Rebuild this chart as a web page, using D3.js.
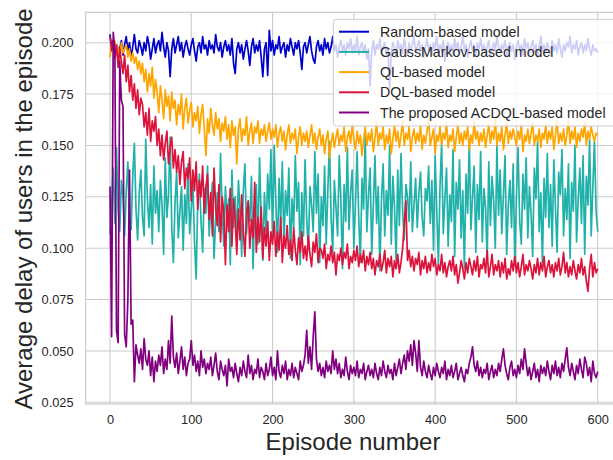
<!DOCTYPE html>
<html><head><meta charset="utf-8">
<script src="https://cdn.jsdelivr.net/npm/d3@7"></script>
<style>html,body{margin:0;padding:0;background:#fff;}svg{display:block;}</style>
</head><body>
<svg id="chart" width="613" height="460"></svg>
<script>
const episodes = d3.range(0, 601, 2);
const xTicks = [0, 100, 200, 300, 400, 500, 600];
const yTicks = [0.025, 0.050, 0.075, 0.100, 0.125, 0.150, 0.175, 0.200];
const seriesNames = ["Random-based model", "GaussMarkov-based model", "QL-based model", "DQL-based model", "The proposed ACDQL-based model"];
const seriesColors = ["#0000CD", "#20B2AA", "#FFA500", "#DC143C", "#800080"];

const randomVals = [
0.204,0.198,0.201,0.195,0.199,0.193,0.197,0.201,0.194,0.199,
0.203,0.196,0.200,0.193,0.198,0.204,0.197,0.195,0.201,0.198,
0.194,0.200,0.196,0.203,0.199,0.192,0.197,0.202,0.195,0.199,
0.201,0.196,0.205,0.198,0.193,0.200,0.196,0.1835,0.197,0.202,
0.195,0.199,0.203,0.196,0.200,0.193,0.198,0.201,0.197,0.194,
0.199,0.202,0.196,0.191,0.198,0.200,0.195,0.203,0.197,0.199,
0.194,0.201,0.197,0.199,0.195,0.204,0.198,0.196,0.200,0.193,
0.198,0.201,0.196,0.199,0.194,0.202,0.190,0.185,0.197,0.200,
0.195,0.199,0.192,0.197,0.201,0.196,0.189,0.198,0.202,0.195,
0.199,0.196,0.201,0.193,0.1835,0.197,0.200,0.184,0.206,0.196,
0.201,0.194,0.199,0.197,0.203,0.195,0.198,0.200,0.193,0.199,
0.196,0.202,0.198,0.194,0.200,0.197,0.201,0.195,0.187,0.198,
0.200,0.195,0.199,0.203,0.196,0.192,0.190,0.198,0.201,0.196,
0.199,0.194,0.202,0.197,0.200,0.195,0.198,0.203,0.196,0.199,
0.193,0.198,0.201,0.196,0.199,0.194,0.200,0.197,0.202,0.195,
0.199,0.196,0.203,0.194,0.198,0.200,0.195,0.199,0.192,0.197,
0.179,0.196,0.201,0.194,0.199,0.197,0.202,0.195,0.198,0.200,
0.194,0.197,0.178,0.195,0.200,0.198,0.193,0.201,0.197,0.199,
0.195,0.202,0.197,0.194,0.200,0.196,0.199,0.203,0.195,0.198,
0.201,0.196,0.199,0.193,0.198,0.202,0.196,0.199,0.194,0.200,
0.197,0.203,0.195,0.199,0.196,0.201,0.191,0.198,0.200,0.195,
0.199,0.194,0.202,0.197,0.200,0.195,0.198,0.204,0.196,0.199,
0.193,0.198,0.201,0.196,0.199,0.194,0.200,0.197,0.202,0.196,
0.199,0.195,0.198,0.201,0.193,0.197,0.200,0.196,0.203,0.198,
0.195,0.199,0.197,0.201,0.194,0.198,0.200,0.196,0.199,0.192,
0.198,0.201,0.196,0.199,0.194,0.202,0.197,0.200,0.195,0.198,
0.201,0.196,0.199,0.193,0.198,0.203,0.196,0.199,0.195,0.200,
0.197,0.194,0.201,0.196,0.199,0.195,0.202,0.197,0.193,0.199,
0.196,0.200,0.198,0.203,0.195,0.199,0.197,0.201,0.194,0.198,
0.200,0.195,0.199,0.196,0.202,0.197,0.194,0.199,0.196,0.197,
0.195];

const gaussVals = [
0.107,0.121,0.139,0.112,0.149,0.118,0.108,0.133,0.125,0.106,
0.128,0.142,0.113,0.109,0.135,0.151,0.119,0.104,0.127,0.138,
0.115,0.106,0.153,0.124,0.110,0.131,0.102,0.140,0.117,0.128,
0.108,0.133,0.121,0.097,0.144,0.115,0.126,0.154,0.110,0.093,
0.122,0.137,0.105,0.118,0.130,0.099,0.126,0.112,0.141,0.107,
0.119,0.131,0.103,0.085,0.124,0.136,0.113,0.098,0.129,0.117,
0.140,0.106,0.121,0.132,0.095,0.114,0.127,0.108,0.146,0.119,
0.101,0.130,0.115,0.124,0.092,0.138,0.110,0.125,0.104,0.133,
0.118,0.096,0.128,0.141,0.107,0.122,0.113,0.135,0.090,0.120,
0.131,0.102,0.144,0.115,0.094,0.127,0.108,0.136,0.119,0.148,
0.105,0.150,0.123,0.098,0.134,0.112,0.142,0.101,0.128,0.116,
0.139,0.095,0.124,0.110,0.145,0.118,0.132,0.092,0.127,0.106,
0.143,0.114,0.099,0.130,0.121,0.108,0.147,0.117,0.136,0.093,
0.125,0.111,0.140,0.102,0.128,0.152,0.115,0.098,0.133,0.120,
0.106,0.145,0.124,0.090,0.131,0.113,0.149,0.109,0.127,0.138,
0.100,0.122,0.147,0.115,0.093,0.134,0.119,0.155,0.108,0.126,
0.139,0.097,0.121,0.145,0.112,0.130,0.089,0.124,0.141,0.106,
0.128,0.116,0.150,0.102,0.135,0.120,0.094,0.138,0.111,0.146,
0.118,0.104,0.131,0.125,0.113,0.142,0.108,0.121,0.134,0.110,
0.127,0.137,0.115,0.106,0.129,0.123,0.140,0.112,0.133,0.099,
0.145,0.118,0.092,0.130,0.151,0.107,0.124,0.139,0.101,0.126,
0.113,0.148,0.096,0.132,0.119,0.143,0.105,0.128,0.090,0.136,
0.117,0.153,0.109,0.125,0.140,0.098,0.131,0.114,0.147,0.103,
0.129,0.120,0.094,0.142,0.111,0.135,0.123,0.100,0.150,0.116,
0.138,0.107,0.126,0.145,0.097,0.121,0.133,0.110,0.141,0.092,
0.125,0.149,0.113,0.102,0.136,0.119,0.144,0.105,0.130,0.117,
0.096,0.139,0.124,0.152,0.108,0.127,0.093,0.134,0.115,0.146,
0.110,0.131,0.101,0.143,0.120,0.098,0.137,0.126,0.148,0.106,
0.129,0.114,0.141,0.095,0.132,0.118,0.150,0.103,0.124,0.139,
0.112,0.145,0.097,0.135,0.121,0.153,0.106,0.130,0.152,0.118,
0.108];

const qlVals = [
0.193,0.199,0.196,0.201,0.194,0.198,0.192,0.200,0.195,0.197,
0.199,0.193,0.197,0.191,0.195,0.190,0.193,0.187,0.191,0.185,
0.190,0.181,0.187,0.176,0.185,0.179,0.188,0.173,0.182,0.176,
0.166,0.179,0.172,0.163,0.177,0.169,0.174,0.162,0.176,0.168,
0.172,0.160,0.170,0.165,0.175,0.158,0.168,0.173,0.161,0.167,
0.171,0.159,0.166,0.162,0.169,0.156,0.165,0.170,0.158,0.145,
0.163,0.156,0.168,0.160,0.155,0.166,0.158,0.163,0.152,0.161,
0.157,0.164,0.153,0.160,0.149,0.162,0.155,0.159,0.141,0.158,
0.163,0.152,0.158,0.155,0.164,0.150,0.157,0.161,0.151,0.159,
0.156,0.162,0.151,0.158,0.155,0.160,0.152,0.157,0.161,0.153,
0.158,0.154,0.160,0.149,0.156,0.159,0.152,0.157,0.148,0.155,
0.160,0.151,0.156,0.153,0.158,0.146,0.154,0.159,0.150,0.156,
0.152,0.157,0.149,0.155,0.160,0.151,0.156,0.148,0.154,0.158,
0.150,0.155,0.146,0.153,0.157,0.144,0.151,0.156,0.149,0.154,
0.158,0.150,0.155,0.152,0.159,0.147,0.154,0.157,0.151,0.160,
0.153,0.148,0.157,0.151,0.155,0.145,0.153,0.159,0.150,0.156,
0.152,0.158,0.147,0.154,0.161,0.150,0.156,0.153,0.159,0.148,
0.155,0.151,0.158,0.146,0.153,0.160,0.152,0.157,0.149,0.155,
0.162,0.150,0.156,0.153,0.159,0.147,0.154,0.158,0.151,0.156,
0.152,0.160,0.148,0.155,0.151,0.157,0.163,0.150,0.154,0.158,
0.146,0.155,0.152,0.159,0.150,0.156,0.153,0.161,0.149,0.155,
0.152,0.158,0.147,0.154,0.160,0.151,0.156,0.150,0.157,0.153,
0.159,0.148,0.155,0.151,0.162,0.153,0.157,0.150,0.156,0.152,
0.158,0.149,0.155,0.160,0.151,0.157,0.153,0.163,0.150,0.156,
0.152,0.159,0.148,0.155,0.161,0.151,0.157,0.153,0.158,0.154,
0.150,0.157,0.153,0.160,0.147,0.155,0.152,0.158,0.151,0.156,
0.161,0.150,0.155,0.152,0.158,0.149,0.156,0.153,0.160,0.151,
0.157,0.153,0.159,0.148,0.155,0.162,0.151,0.156,0.152,0.158,
0.150,0.155,0.163,0.151,0.157,0.153,0.159,0.149,0.156,0.152,
0.158,0.154,0.161,0.150,0.157,0.153,0.159,0.155,0.152,0.156,
0.155];

const dqlVals = [
0.203,0.196,0.201,0.193,0.199,0.188,0.197,0.191,0.185,0.194,
0.181,0.189,0.176,0.184,0.172,0.180,0.168,0.177,0.165,0.173,
0.170,0.159,0.166,0.155,0.168,0.152,0.162,0.157,0.164,0.150,
0.158,0.145,0.155,0.143,0.151,0.157,0.141,0.149,0.154,0.139,
0.148,0.137,0.145,0.131,0.142,0.147,0.129,0.139,0.134,0.144,
0.123,0.138,0.128,0.142,0.119,0.133,0.125,0.140,0.117,0.130,
0.136,0.114,0.127,0.106,0.139,0.120,0.111,0.131,0.103,0.125,
0.118,0.092,0.121,0.108,0.129,0.101,0.124,0.113,0.097,0.119,
0.104,0.126,0.109,0.096,0.117,0.123,0.100,0.114,0.105,0.132,
0.098,0.115,0.103,0.120,0.095,0.110,0.101,0.113,0.094,0.108,
0.102,0.113,0.096,0.108,0.099,0.115,0.093,0.106,0.100,0.111,
0.097,0.104,0.094,0.110,0.099,0.092,0.105,0.098,0.108,0.095,
0.101,0.094,0.106,0.097,0.091,0.103,0.098,0.107,0.093,0.100,
0.099,0.095,0.102,0.090,0.097,0.094,0.101,0.093,0.098,0.087,
0.097,0.094,0.100,0.092,0.098,0.095,0.102,0.090,0.096,0.093,
0.099,0.094,0.101,0.091,0.097,0.093,0.099,0.089,0.096,0.092,
0.098,0.090,0.095,0.087,0.094,0.091,0.097,0.089,0.093,0.099,
0.088,0.095,0.091,0.096,0.086,0.094,0.090,0.097,0.088,0.093,
0.100,0.112,0.123,0.094,0.099,0.091,0.096,0.089,0.095,0.092,
0.098,0.087,0.094,0.090,0.096,0.088,0.093,0.089,0.097,0.091,
0.095,0.087,0.092,0.089,0.097,0.088,0.093,0.086,0.091,0.094,
0.089,0.096,0.087,0.092,0.083,0.088,0.094,0.090,0.085,0.093,
0.088,0.095,0.091,0.087,0.094,0.089,0.096,0.086,0.092,0.090,
0.095,0.088,0.099,0.086,0.091,0.097,0.087,0.092,0.089,0.094,
0.086,0.093,0.088,0.095,0.085,0.090,0.087,0.094,0.089,0.096,
0.088,0.093,0.086,0.091,0.097,0.087,0.092,0.089,0.094,0.090,
0.085,0.092,0.088,0.095,0.087,0.093,0.089,0.096,0.086,0.091,
0.094,0.088,0.092,0.086,0.093,0.089,0.095,0.087,0.091,0.098,
0.088,0.093,0.086,0.091,0.087,0.094,0.089,0.085,0.092,0.088,
0.095,0.087,0.091,0.084,0.079,0.090,0.097,0.086,0.093,0.088,
0.090];

const acdqlVals = [
0.130,0.057,0.205,0.196,0.060,0.054,0.191,0.172,0.169,0.058,
0.052,0.075,0.138,0.063,0.065,0.035,0.053,0.048,0.044,0.051,
0.041,0.056,0.046,0.043,0.050,0.038,0.047,0.035,0.045,0.040,
0.048,0.043,0.052,0.039,0.046,0.041,0.055,0.044,0.067,0.047,
0.042,0.049,0.039,0.045,0.052,0.041,0.047,0.038,0.044,0.046,
0.055,0.043,0.048,0.040,0.045,0.038,0.050,0.042,0.046,0.039,
0.044,0.041,0.047,0.038,0.043,0.049,0.040,0.036,0.045,0.041,
0.038,0.043,0.033,0.046,0.040,0.042,0.037,0.044,0.039,0.035,
0.042,0.038,0.045,0.040,0.037,0.048,0.039,0.043,0.036,0.041,
0.039,0.046,0.037,0.042,0.040,0.036,0.044,0.038,0.041,0.047,
0.038,0.042,0.036,0.050,0.040,0.037,0.043,0.039,0.045,0.036,
0.041,0.038,0.044,0.037,0.042,0.039,0.036,0.045,0.040,0.043,
0.048,0.060,0.044,0.052,0.041,0.057,0.069,0.046,0.040,0.044,
0.038,0.042,0.037,0.045,0.040,0.043,0.039,0.050,0.041,0.046,
0.039,0.044,0.037,0.041,0.038,0.047,0.040,0.036,0.043,0.039,
0.042,0.038,0.045,0.037,0.041,0.039,0.044,0.036,0.040,0.043,
0.038,0.041,0.037,0.044,0.039,0.036,0.042,0.038,0.045,0.040,
0.037,0.043,0.039,0.041,0.036,0.044,0.038,0.042,0.046,0.039,
0.044,0.048,0.041,0.050,0.045,0.053,0.043,0.055,0.049,0.040,
0.055,0.042,0.038,0.045,0.040,0.037,0.043,0.039,0.036,0.042,
0.038,0.044,0.040,0.037,0.042,0.039,0.045,0.036,0.041,0.038,
0.043,0.037,0.040,0.044,0.036,0.039,0.042,0.038,0.035,0.041,
0.039,0.044,0.047,0.052,0.043,0.040,0.045,0.038,0.042,0.037,
0.041,0.039,0.044,0.036,0.040,0.043,0.037,0.041,0.038,0.044,
0.040,0.046,0.051,0.043,0.039,0.036,0.042,0.045,0.038,0.041,
0.037,0.043,0.039,0.046,0.041,0.051,0.044,0.038,0.042,0.036,
0.040,0.044,0.037,0.041,0.035,0.043,0.039,0.042,0.038,0.045,
0.040,0.036,0.043,0.039,0.045,0.038,0.042,0.037,0.044,0.040,
0.046,0.0515,0.042,0.038,0.044,0.040,0.036,0.043,0.039,0.046,
0.041,0.037,0.047,0.044,0.038,0.042,0.035,0.045,0.039,0.037,
0.040];

const allSeries = [randomVals, gaussVals, qlVals, dqlVals, acdqlVals];

const svg = d3.select("#chart");
const pL = 85.6, pR = 622.1, pT = 12.3, pB = 404;
const x = d3.scaleLinear().domain([-30, 630]).range([pL, pR]);
const y = d3.scaleLinear().domain([0.025, 0.200]).range([402.3, 42.7]);
const font = "'Liberation Sans', Arial, sans-serif";

svg.append("rect").attr("x",0).attr("y",0).attr("width",613).attr("height",460).attr("fill","#fff");

// grid
const g = svg.append("g");
g.selectAll(".gy").data(yTicks).enter().append("line")
  .attr("x1", pL).attr("x2", pR).attr("y1", d=>y(d)).attr("y2", d=>y(d))
  .attr("stroke", "#cccccc").attr("stroke-width", 1.1);
g.selectAll(".gx").data(xTicks).enter().append("line")
  .attr("y1", pT).attr("y2", pB).attr("x1", d=>x(d)).attr("x2", d=>x(d))
  .attr("stroke", "#cccccc").attr("stroke-width", 1.1);

// axes via d3
const xAxis = d3.axisBottom(x).tickValues(xTicks).tickSize(0).tickPadding(11);
const yAxis = d3.axisLeft(y).tickValues(yTicks).tickFormat(d3.format(".3f")).tickSize(0).tickPadding(12);
const gx = svg.append("g").attr("transform", `translate(0,${pB})`).call(xAxis);
const gy = svg.append("g").attr("transform", `translate(${pL},0)`).call(yAxis);
[gx, gy].forEach(a => {
  a.select(".domain").remove();
  a.selectAll("text").attr("font-family", font).attr("font-size", 12.8).attr("fill", "#262626");
});

// lines
svg.append("clipPath").attr("id","clip").append("rect")
  .attr("x", pL).attr("y", pT).attr("width", pR-pL).attr("height", pB-pT);
const line = d3.line().x((d,i)=>x(episodes[i])).y(d=>y(d));
const lines = svg.append("g").attr("clip-path","url(#clip)");
allSeries.forEach((vals, k) => {
  lines.append("path").datum(vals).attr("d", line)
    .attr("fill","none").attr("stroke", seriesColors[k]).attr("stroke-width", 1.7)
    .attr("stroke-linejoin","round");
});

// frame
svg.append("rect").attr("x", pL).attr("y", pT).attr("width", pR-pL).attr("height", pB-pT)
  .attr("fill","none").attr("stroke","#cccccc").attr("stroke-width",1.25);

// axis labels
svg.append("text").attr("x", 353).attr("y", 450).attr("text-anchor","middle")
  .attr("font-family", font).attr("font-size", 24).attr("fill","#262626").text("Episode number");
svg.append("text").attr("transform","translate(32,209) rotate(-90)").attr("text-anchor","middle")
  .attr("font-family", font).attr("font-size", 24).attr("fill","#262626").text("Average delay of users in the episode");

// legend
const lg = svg.append("g");
lg.append("rect").attr("x", 333.3).attr("y", 19.3).attr("width", 300).attr("height", 106.7)
  .attr("rx", 3).attr("fill","#fff").attr("fill-opacity",0.8).attr("stroke","#cccccc").attr("stroke-width",1);
const rowY = [31.7, 51.9, 72.1, 92.3, 112.5];
seriesNames.forEach((name, k) => {
  lg.append("line").attr("x1", 339).attr("x2", 369).attr("y1", rowY[k]).attr("y2", rowY[k])
    .attr("stroke", seriesColors[k]).attr("stroke-width", 2);
  lg.append("text").attr("x", 380).attr("y", rowY[k]).attr("dy","0.36em")
    .attr("font-family", font).attr("font-size", 14.2).attr("fill","#262626").text(name);
});
</script>
</body></html>
